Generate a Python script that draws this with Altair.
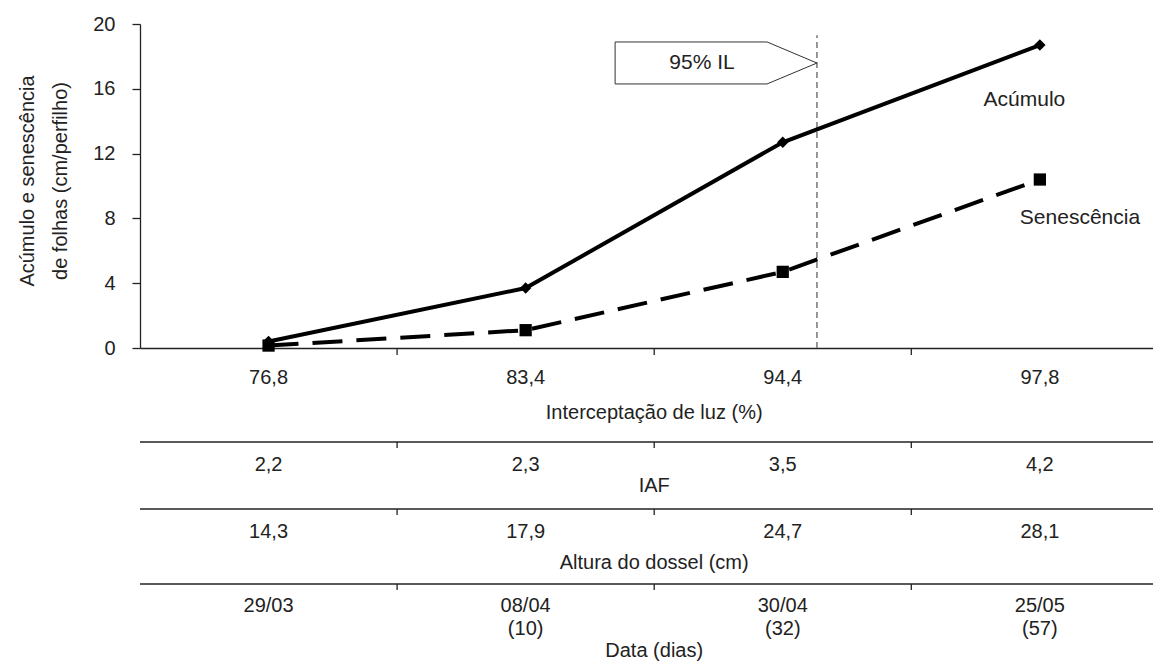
import altair as alt
import pandas as pd

# ---------------- data ----------------
interceptacao = ["76,8", "83,4", "94,4", "97,8"]
acumulo = [0.4, 3.7, 12.7, 18.7]
senescencia = [0.15, 1.1, 4.7, 10.4]
iaf = ["2,2", "2,3", "3,5", "4,2"]
altura = ["14,3", "17,9", "24,7", "28,1"]
datas = ["29/03", "08/04", "30/04", "25/05"]
dias = ["", "(10)", "(32)", "(57)"]
posicao = [0, 1, 2, 3]
divisoes = [0.5, 1.5, 2.5]
il95 = 2.133          # 95% IL between 94,4 and 97,8
il95_top = 19.3
callout_x = [1.348, 1.939, 2.133, 1.939, 1.348, 1.348]
callout_y = [18.89, 18.89, 17.59, 16.30, 16.30, 18.89]
y_ticks = [0, 4, 8, 12, 16, 20]

# ---------------- layout ----------------
FONT = "Liberation Sans"
TXT = "#222222"
W, H = 1013, 324
X_DOMAIN = [-0.5, -0.5 + W / 257.1]

x_enc = alt.X("x:Q", scale=alt.Scale(domain=X_DOMAIN, nice=False, zero=False),
              axis=alt.Axis(labels=False, ticks=False, grid=False, title=None,
                            domainColor=TXT, domainWidth=1.3))
y_enc = alt.Y("y:Q", scale=alt.Scale(domain=[0, 20], nice=False, zero=False),
              axis=alt.Axis(values=y_ticks, tickSize=8, labelPadding=17, labelFontSize=20,
                            labelFont=FONT, labelColor=TXT, grid=False, title=None,
                            domainColor=TXT, tickColor=TXT, domainWidth=1.3, tickWidth=1.3))

df_ac = pd.DataFrame({"x": posicao, "y": acumulo})
df_se = pd.DataFrame({"x": posicao, "y": senescencia})

ac_line = alt.Chart(df_ac).mark_line(color="black", strokeWidth=4).encode(x=x_enc, y=y_enc)
ac_pts = alt.Chart(df_ac).mark_point(shape="diamond", filled=True, size=130, color="black",
                                     opacity=1).encode(x=x_enc, y=y_enc)
se_line = alt.Chart(df_se).mark_line(color="black", strokeWidth=4, strokeDash=[30, 14]).encode(
    x=x_enc, y=y_enc)
se_pts = alt.Chart(df_se).mark_point(shape="square", filled=True, size=150, color="black",
                                     opacity=1).encode(x=x_enc, y=y_enc)

vline = alt.Chart(pd.DataFrame({"x": [il95], "y": [0], "y2": [il95_top]})).mark_rule(
    color="#777777", strokeDash=[6, 4], strokeWidth=1.5).encode(x=x_enc, y=y_enc, y2="y2:Q")

callout = alt.Chart(pd.DataFrame({"x": callout_x, "y": callout_y,
                                  "o": list(range(len(callout_x)))})).mark_line(
    color="#333333", strokeWidth=1).encode(x=x_enc, y=y_enc, order="o:Q")
callout_txt = alt.Chart(pd.DataFrame({"x": [1.686], "y": [17.59], "t": ["95% IL"]})).mark_text(
    font=FONT, fontSize=21, color=TXT, baseline="middle").encode(x=x_enc, y=y_enc, text="t:N")

series_txt = alt.Chart(pd.DataFrame({"x": [2.94, 3.156], "y": [15.3, 8.0],
                                     "t": ["Acúmulo", "Senescência"]})).mark_text(
    font=FONT, fontSize=21, color=TXT, baseline="middle").encode(x=x_enc, y=y_enc, text="t:N")


def text_row(values, ypx, xs=posicao, size=20):
    d = pd.DataFrame({"x": xs, "t": values})
    return alt.Chart(d).mark_text(font=FONT, fontSize=size, color=TXT, baseline="middle").encode(
        x=x_enc, y=alt.value(ypx), text="t:N")


def hline(ypx):
    d = pd.DataFrame({"x": [X_DOMAIN[0]], "x2": [X_DOMAIN[1]]})
    return alt.Chart(d).mark_rule(color=TXT, strokeWidth=1.3).encode(
        x=x_enc, x2="x2:Q", y=alt.value(ypx))


def ticks(ypx, length=7):
    d = pd.DataFrame({"x": divisoes})
    return alt.Chart(d).mark_rule(color=TXT, strokeWidth=1.3).encode(
        x=x_enc, y=alt.value(ypx), y2=alt.value(ypx + length))


layers = [
    vline, callout, callout_txt,
    ac_line, ac_pts, se_line, se_pts, series_txt,
    ticks(H),
    text_row(interceptacao, 354),
    text_row(["Interceptação de luz (%)"], 389, xs=[1.5]),
    hline(418), ticks(418, 6),
    text_row(iaf, 441),
    text_row(["IAF"], 462, xs=[1.5]),
    hline(485), ticks(485, 6),
    text_row(altura, 508),
    text_row(["Altura do dossel (cm)"], 539, xs=[1.5]),
    hline(560), ticks(560, 6),
    text_row(datas, 582),
    text_row(dias, 605),
    text_row(["Data (dias)"], 627, xs=[1.5]),
]

ytitle1 = alt.Chart(pd.DataFrame({"t": ["Acúmulo e senescência"]})).mark_text(
    font=FONT, fontSize=20, color=TXT, angle=270, baseline="middle").encode(
    x=alt.value(-112), y=alt.value(157), text="t:N")
ytitle2 = alt.Chart(pd.DataFrame({"t": ["de folhas (cm/perfilho)"]})).mark_text(
    font=FONT, fontSize=20, color=TXT, angle=270, baseline="middle").encode(
    x=alt.value(-79), y=alt.value(157), text="t:N")

chart = alt.layer(*layers, ytitle1, ytitle2).properties(
    width=W, height=H,
    autosize=alt.AutoSizeParams(type="none"),
    padding={"left": 132, "top": 16, "right": 0, "bottom": 655 - 16 - H},
    background="white",
).configure_view(stroke=None)

chart.save("out.html", embed_options={"renderer": "svg", "actions": False})
